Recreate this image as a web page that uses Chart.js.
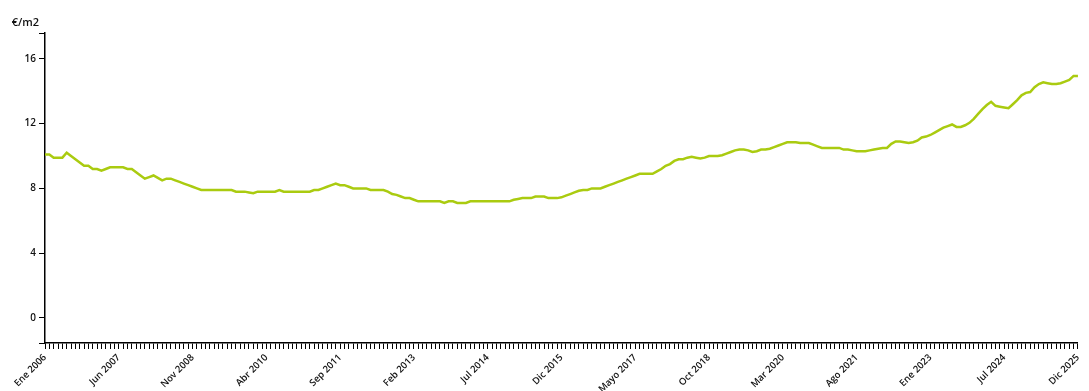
<!DOCTYPE html>
<html>
<head>
<meta charset="utf-8">
<script src="https://cdn.jsdelivr.net/npm/chart.js@4/dist/chart.umd.min.js"></script>
<style>
  html, body { margin: 0; padding: 0; background: #fff; }
  #wrap { width: 1089px; height: 391px; }
</style>
</head>
<body>
<div id="wrap"><canvas id="price-chart-canvas"></canvas></div>
<script>
// month names used on the x axis
const monthNames = ['Ene', 'Feb', 'Mar', 'Abr', 'Mayo', 'Jun', 'Jul', 'Ago', 'Sep', 'Oct', 'Nov', 'Dic'];
const firstYear = 2006;
const lastYear = 2025;
// the source series has one month missing between Ene 2023 and Jul 2024
const missingMonth = 'Dic 2023';

const months = [];
for (let y = firstYear; y <= lastYear; y++) {
  monthNames.forEach((m) => {
    const label = m + ' ' + y;
    if (label !== missingMonth) months.push(label);
  });
}

// €/m2, one value per month
const prices = [
  10.1, 10.1, 9.9, 9.9, 9.9, 10.2, 10.0, 9.8, 9.6, 9.4, 9.4, 9.2,
  9.2, 9.1, 9.2, 9.3, 9.3, 9.3, 9.3, 9.2, 9.2, 9.0, 8.8, 8.6,
  8.7, 8.8, 8.65, 8.5, 8.6, 8.6, 8.5, 8.4, 8.3, 8.2, 8.1, 8.0,
  7.9, 7.9, 7.9, 7.9, 7.9, 7.9, 7.9, 7.9, 7.8, 7.8, 7.8, 7.75,
  7.7, 7.8, 7.8, 7.8, 7.8, 7.8, 7.9, 7.8, 7.8, 7.8, 7.8, 7.8,
  7.8, 7.8, 7.9, 7.9, 8.0, 8.1, 8.2, 8.3, 8.2, 8.2, 8.1, 8.0,
  8.0, 8.0, 8.0, 7.9, 7.9, 7.9, 7.9, 7.8, 7.65, 7.6, 7.5, 7.4,
  7.4, 7.3, 7.2, 7.2, 7.2, 7.2, 7.2, 7.2, 7.1, 7.2, 7.2, 7.1,
  7.1, 7.1, 7.2, 7.2, 7.2, 7.2, 7.2, 7.2, 7.2, 7.2, 7.2, 7.2,
  7.3, 7.35, 7.4, 7.4, 7.4, 7.5, 7.5, 7.5, 7.4, 7.4, 7.4, 7.45,
  7.55, 7.65, 7.75, 7.85, 7.9, 7.9, 8.0, 8.0, 8.0, 8.1, 8.2, 8.3,
  8.4, 8.5, 8.6, 8.7, 8.8, 8.9, 8.9, 8.9, 8.9, 9.05, 9.2, 9.4,
  9.5, 9.7, 9.8, 9.8, 9.9, 9.95, 9.9, 9.85, 9.9, 10.0, 10.0, 10.0,
  10.05, 10.15, 10.25, 10.35, 10.4, 10.4, 10.35, 10.25, 10.3, 10.4, 10.4, 10.45,
  10.55, 10.65, 10.75, 10.85, 10.85, 10.85, 10.8, 10.8, 10.8, 10.7, 10.6, 10.5,
  10.5, 10.5, 10.5, 10.5, 10.4, 10.4, 10.35, 10.3, 10.3, 10.3, 10.35, 10.4,
  10.45, 10.5, 10.5, 10.75, 10.9, 10.9, 10.85, 10.8, 10.85, 10.95, 11.15, 11.2,
  11.3, 11.45, 11.6, 11.75, 11.85, 11.95, 11.8, 11.8, 11.9, 12.05, 12.3, 12.6,
  12.9, 13.15, 13.35, 13.1, 13.05, 13.0, 12.95, 13.2, 13.45, 13.75, 13.9, 13.95,
  14.25, 14.45, 14.55, 14.5, 14.45, 14.45, 14.5, 14.6, 14.7, 14.95, 14.95
];

const yTicks = [0, 4, 8, 12, 16];
const yMin = -1.55;
const yMax = 17.6;
const labelEvery = 17;

// "€/m2" over the y axis
const unitLabel = {
  id: 'unitLabel',
  afterDraw(chart) {
    const ctx = chart.ctx;
    ctx.save();
    ctx.font = '600 11px "Open Sans"';
    ctx.fillStyle = '#111';
    ctx.textAlign = 'right';
    ctx.textBaseline = 'middle';
    ctx.fillText('€/m2', chart.chartArea.left - 6, chart.chartArea.top - 10);
    ctx.restore();
  },
};

const priceChart = new Chart('price-chart-canvas', {
  type: 'line',
  data: {
    labels: months,
    datasets: [{
      label: '€/m2',
      data: prices,
      borderColor: '#aacb10',
      borderWidth: 2.5,
      pointRadius: 0,
      tension: 0,
      fill: false,
    }],
  },
  options: {
    responsive: true,
    maintainAspectRatio: false,
    animation: false,
    layout: {
      padding: { top: 33, right: 7, left: 0, bottom: 0 },
    },
    scales: {
      x: {
        grid: {
          drawOnChartArea: false,
          drawTicks: true,
          tickLength: 6,
          color: '#000',
        },
        border: { display: true, color: '#000', width: 1.5 },
        ticks: {
          autoSkip: false,
          maxRotation: 45,
          minRotation: 45,
          padding: 3,
          color: '#111',
          font: { family: 'Open Sans', size: 9.5, weight: '600' },
          callback: function (value, index) {
            return index % labelEvery === 0 ? this.getLabelForValue(value) : '';
          },
        },
        afterFit: (scale) => { scale.height = 48; },
      },
      y: {
        min: yMin,
        max: yMax,
        grid: {
          drawOnChartArea: false,
          drawTicks: true,
          tickLength: 6,
          color: '#000',
        },
        border: { display: true, color: '#000', width: 1.5 },
        afterBuildTicks: (scale) => {
          scale.ticks = [yMin, ...yTicks, yMax].map((v) => ({ value: v }));
        },
        ticks: {
          padding: 3,
          color: '#111',
          font: { family: 'Open Sans', size: 10, weight: '600' },
          callback: (value) => (yTicks.includes(value) ? value : ''),
        },
        afterFit: (scale) => { scale.width = 45; },
      },
    },
    plugins: {
      legend: { display: false },
      tooltip: { enabled: false },
    },
  },
  plugins: [unitLabel],
});
</script>
</body>
</html>
